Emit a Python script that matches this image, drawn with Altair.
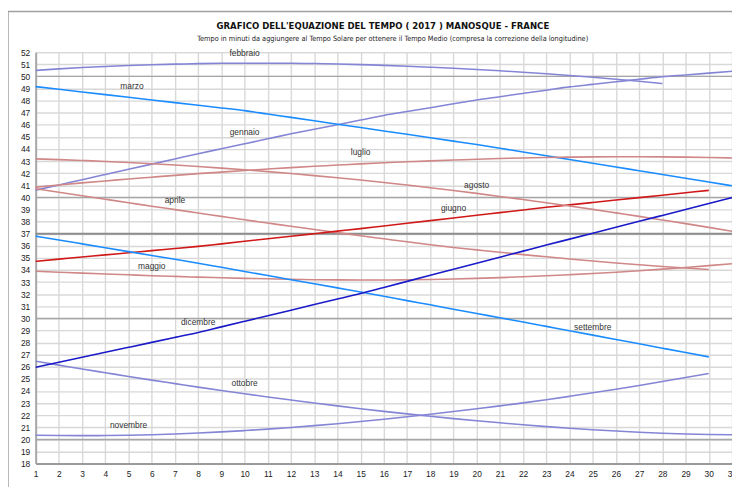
import altair as alt
import pandas as pd

months = ["gennaio", "febbraio", "marzo", "aprile", "maggio", "giugno",
          "luglio", "agosto", "settembre", "ottobre", "novembre", "dicembre"]

gennaio = [40.6, 41.03, 41.46, 41.89, 42.32, 42.75, 43.18, 43.61, 44.02, 44.43, 44.84, 45.25, 45.63, 46.01, 46.39, 46.77,
           47.09, 47.41, 47.73, 48.05, 48.32, 48.59, 48.86, 49.13, 49.34, 49.55, 49.76, 49.97, 50.12, 50.27, 50.42]
febbraio = [50.49, 50.62, 50.73, 50.82, 50.9, 50.96, 51.01, 51.05, 51.08, 51.09, 51.09, 51.08, 51.06, 51.02, 50.97, 50.91,
            50.84, 50.76, 50.67, 50.57, 50.46, 50.34, 50.21, 50.07, 49.92, 49.76, 49.59, 49.41]
marzo = [49.15, 48.93, 48.71, 48.49, 48.27, 48.05, 47.83, 47.61, 47.39, 47.17, 46.89, 46.61, 46.33, 46.05, 45.77, 45.49,
         45.21, 44.93, 44.65, 44.37, 44.06, 43.75, 43.44, 43.13, 42.82, 42.51, 42.2, 41.89, 41.58, 41.27, 40.96]
aprile = [40.72, 40.43, 40.14, 39.85, 39.56, 39.27, 38.99, 38.71, 38.43, 38.15, 37.88, 37.61, 37.35, 37.09, 36.83, 36.58,
          36.33, 36.09, 35.86, 35.66, 35.46, 35.27, 35.09, 34.91, 34.74, 34.58, 34.43, 34.29, 34.16, 34.04]
maggio = [33.9, 33.82, 33.74, 33.67, 33.6, 33.53, 33.47, 33.41, 33.36, 33.31, 33.27, 33.23, 33.2, 33.18, 33.17, 33.17,
          33.19, 33.22, 33.26, 33.31, 33.37, 33.44, 33.52, 33.61, 33.71, 33.82, 33.94, 34.07, 34.21, 34.36, 34.52]
giugno = [34.72, 34.9, 35.07, 35.25, 35.42, 35.6, 35.77, 35.95, 36.16, 36.37, 36.58, 36.79, 37.0, 37.21, 37.42, 37.64,
          37.86, 38.08, 38.3, 38.52, 38.74, 38.96, 39.18, 39.38, 39.58, 39.78, 39.98, 40.18, 40.38, 40.58]
luglio = [40.85, 41.03, 41.2, 41.36, 41.52, 41.67, 41.82, 41.96, 42.09, 42.22, 42.34, 42.46, 42.57, 42.67, 42.77, 42.86,
          42.94, 43.02, 43.09, 43.15, 43.21, 43.26, 43.3, 43.33, 43.35, 43.36, 43.36, 43.35, 43.33, 43.3, 43.26]
agosto = [43.18, 43.12, 43.05, 42.97, 42.88, 42.78, 42.67, 42.55, 42.42, 42.28, 42.13, 41.97, 41.8, 41.62, 41.43, 41.23,
          41.02, 40.8, 40.57, 40.33, 40.08, 39.82, 39.56, 39.29, 39.01, 38.72, 38.43, 38.13, 37.83, 37.52, 37.2]
settembre = [36.8, 36.48, 36.16, 35.84, 35.52, 35.2, 34.88, 34.56, 34.22, 33.88, 33.54, 33.2, 32.86, 32.52, 32.18, 31.83,
             31.47, 31.12, 30.76, 30.41, 30.05, 29.7, 29.34, 28.98, 28.62, 28.26, 27.9, 27.54, 27.18, 26.82]
ottobre = [26.46, 26.14, 25.82, 25.51, 25.2, 24.9, 24.61, 24.32, 24.04, 23.77, 23.51, 23.26, 23.01, 22.77, 22.54, 22.32,
           22.11, 21.91, 21.72, 21.54, 21.37, 21.21, 21.06, 20.92, 20.8, 20.69, 20.59, 20.51, 20.45, 20.41, 20.38]
novembre = [20.34, 20.32, 20.31, 20.32, 20.35, 20.39, 20.45, 20.53, 20.62, 20.73, 20.85, 20.99, 21.14, 21.3, 21.48, 21.67,
            21.87, 22.08, 22.3, 22.53, 22.77, 23.02, 23.28, 23.56, 23.85, 24.15, 24.46, 24.78, 25.11, 25.45]
dicembre = [25.97, 26.38, 26.79, 27.2, 27.61, 28.02, 28.43, 28.84, 29.3, 29.76, 30.22, 30.68, 31.14, 31.6, 32.06, 32.56,
            33.06, 33.56, 34.06, 34.56, 35.06, 35.56, 36.06, 36.55, 37.04, 37.53, 38.02, 38.51, 39.0, 39.49, 39.98]

series = [gennaio, febbraio, marzo, aprile, maggio, giugno,
          luglio, agosto, settembre, ottobre, novembre, dicembre]

# month labels placed on the chart
label_text = ["febbraio", "marzo", "gennaio", "luglio", "agosto", "aprile",
              "giugno", "maggio", "dicembre", "settembre", "ottobre", "novembre"]
label_day = [10, 5.15, 10, 15, 20, 7, 19, 6, 8, 25, 10, 5]
label_val = [51.93, 49.18, 45.36, 43.72, 41.02, 39.77, 39.12, 34.31, 29.73, 29.3, 24.63, 21.22]

title_text = "GRAFICO DELL'EQUAZIONE DEL TEMPO ( 2017 )  MANOSQUE - FRANCE"
subtitle_text = ("Tempo in minuti da aggiungere al Tempo Solare per ottenere il Tempo Medio "
                 "(compresa la correzione della longitudine)")

major_lines = [20, 30, 40, 50]
zero_line = [37]
x_ticks = list(range(1, 32))
y_ticks = list(range(18, 53))

rows = []
for m, vals in zip(months, series):
    for i, v in enumerate(vals):
        rows.append({"mese": m, "giorno": i + 1, "minuti": v})
df = pd.DataFrame(rows)
labels_df = pd.DataFrame({"testo": label_text, "giorno": label_day, "minuti": label_val})

lav = "#8585d6"
pink = "#d08787"
colors = [lav, lav, "#1a8cff", pink, pink, "#d01818", pink, pink, "#1a8cff", lav, lav, "#1a1ac8"]
widths = [1.6, 1.6, 2, 1.6, 1.6, 2, 1.6, 1.6, 2, 1.6, 1.6, 2]

xscale = alt.Scale(domain=[1, 31], nice=False, zero=False)
yscale = alt.Scale(domain=[18, 52], nice=False, zero=False)

font = "Liberation Sans"
narrow = "Liberation Sans Narrow, Arial Narrow, DejaVu Sans Condensed, Liberation Sans, sans-serif"

x_axis = alt.Axis(values=x_ticks, format="d", title=None, grid=True, ticks=False,
                  labelPadding=6, domainColor="#9a9a9a", domainWidth=2,
                  labelFontSize=8.5, labelFont=font, labelColor="#222",
                  labelFlush=False, labelOverlap=False,
                  gridColor="#d8d8d8", gridWidth=1.4)
y_axis = alt.Axis(values=y_ticks, format="d", title=None, grid=True, ticks=False,
                  labelPadding=6, domainColor="#a8a8a8", domainWidth=2,
                  labelFontSize=8.5, labelFont=font, labelColor="#222",
                  labelOverlap=False,
                  gridColor="#d8d8d8", gridWidth=1.4)

lines = alt.Chart(df).mark_line(interpolate="monotone").encode(
    x=alt.X("giorno:Q", scale=xscale, axis=x_axis),
    y=alt.Y("minuti:Q", scale=yscale, axis=y_axis),
    color=alt.Color("mese:N", scale=alt.Scale(domain=months, range=colors), legend=None),
    strokeWidth=alt.StrokeWidth("mese:N", scale=alt.Scale(domain=months, range=widths), legend=None),
    detail="mese:N",
)

major = alt.Chart(pd.DataFrame({"v": major_lines})).mark_rule(color="#a6a6a6", strokeWidth=1.5).encode(
    y=alt.Y("v:Q", scale=yscale, axis=y_axis))
zero = alt.Chart(pd.DataFrame({"v": zero_line})).mark_rule(color="#8c8c8c", strokeWidth=2).encode(
    y=alt.Y("v:Q", scale=yscale, axis=y_axis))

texts = alt.Chart(labels_df).mark_text(font=font, fontSize=8.5, color="#333").encode(
    x=alt.X("giorno:Q", scale=xscale, axis=x_axis),
    y=alt.Y("minuti:Q", scale=yscale, axis=y_axis),
    text="testo:N",
)

frame = alt.Chart(pd.DataFrame({"a": [0]})).mark_rect(
    fill="transparent", stroke="#a0a0a0", strokeWidth=1.5, clip=False
).encode(x=alt.value(-28), x2=alt.value(720), y=alt.value(-41), y2=alt.value(450))

title = alt.Chart(pd.DataFrame({"t": [title_text]})).mark_text(
    font=narrow, fontSize=9.6, fontWeight="bold", color="#111", align="center", baseline="middle"
).encode(x=alt.value(351), y=alt.value(-26), text="t:N")

subtitle = alt.Chart(pd.DataFrame({"t": [subtitle_text]})).mark_text(
    font=narrow, fontSize=7.4, color="#222", align="center", baseline="middle"
).encode(x=alt.value(361), y=alt.value(-13), text="t:N")

chart = alt.layer(frame, major, zero, lines, texts, title, subtitle).properties(
    width=704,
    height=416,
    autosize=alt.AutoSizeParams(type="none"),
    padding={"left": 28, "top": 42, "right": 0, "bottom": 22},
).configure_view(stroke=None).configure(background="white")

chart.save("out.html", embed_options={"renderer": "svg", "actions": False})
